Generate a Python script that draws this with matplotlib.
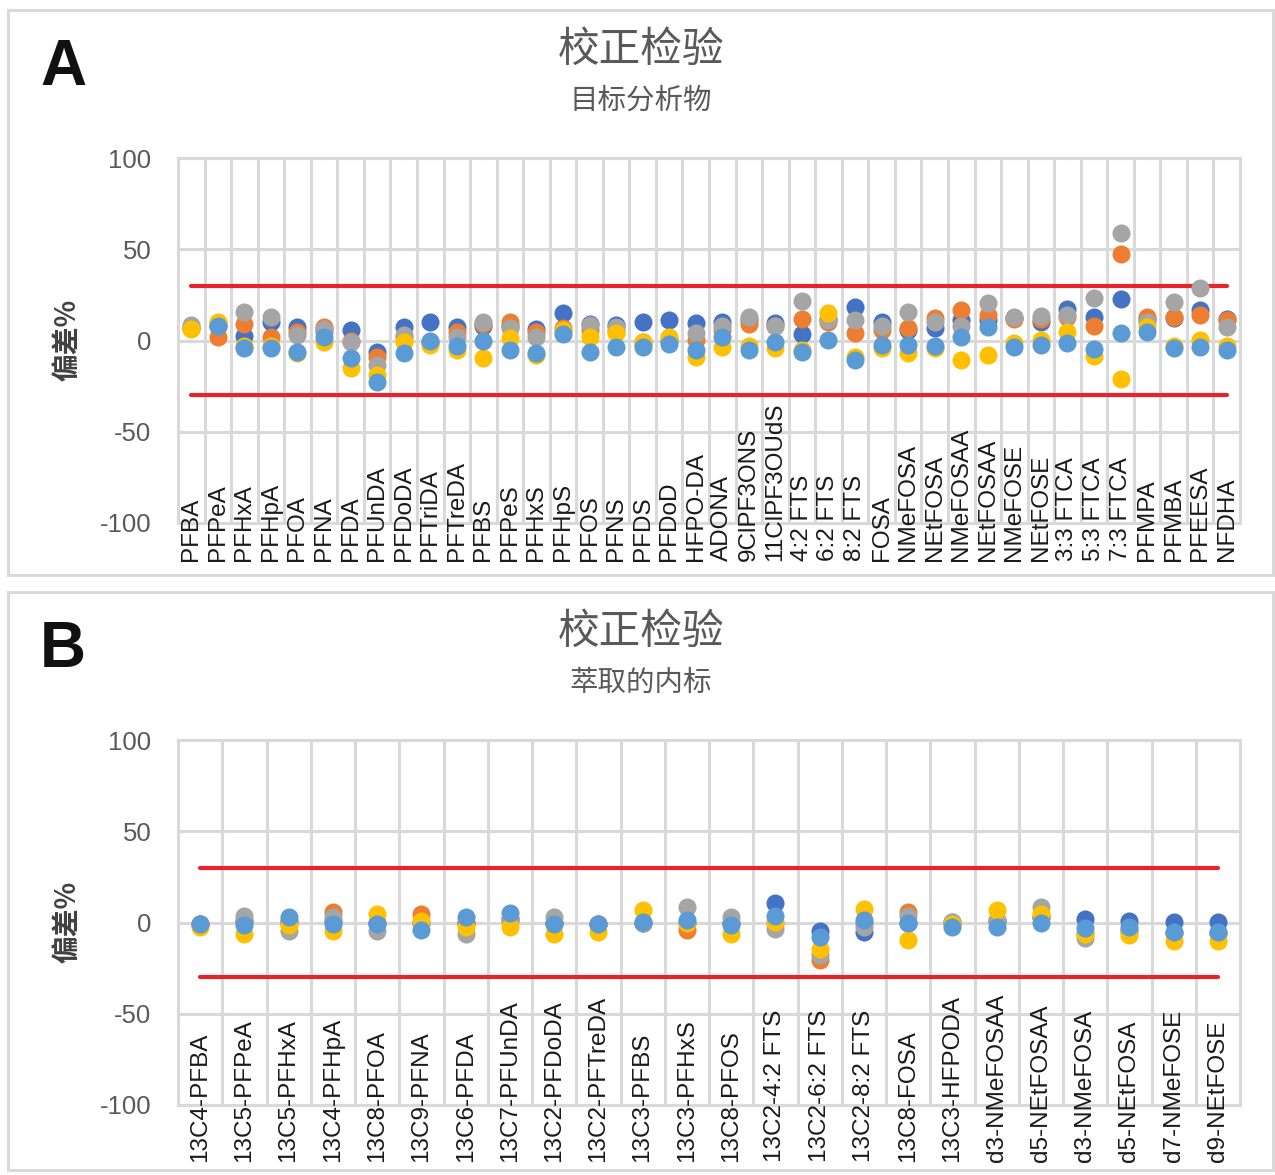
import numpy as np
import matplotlib
matplotlib.use("Agg")
import matplotlib.pyplot as plt
from matplotlib.patches import Rectangle
from matplotlib import transforms

plt.rcParams['font.family'] = ['Liberation Sans', 'Noto Sans CJK SC', 'DejaVu Sans']
plt.rcParams['axes.unicode_minus'] = False

# ---- data: panel A (target analytes) ----
cats_a = ["PFBA", "PFPeA", "PFHxA", "PFHpA", "PFOA", "PFNA", "PFDA", "PFUnDA",
          "PFDoDA", "PFTriDA", "PFTreDA", "PFBS", "PFPeS", "PFHxS", "PFHpS",
          "PFOS", "PFNS", "PFDS", "PFDoD", "HFPO-DA", "ADONA", "9ClPF3ONS",
          "11ClPF3OUdS", "4:2 FTS", "6:2 FTS", "8:2 FTS", "FOSA", "NMeFOSA",
          "NEtFOSA", "NMeFOSAA", "NEtFOSAA", "NMeFOSE", "NEtFOSE", "3:3 FTCA",
          "5:3 FTCA", "7:3 FTCA", "PFMPA", "PFMBA", "PFEESA", "NFDHA"]
a_blue = [7, 8, 2.5, 10.3, 7.2, 5, 5.8, -6.1, 7.2, 10.3, 7.6, 8, 8, 6.1, 15.2,
          8.8, 8.5, 10.3, 11.2, 9.8, 10.3, 11, 9.5, 3.6, 12, 18.5, 10.3, 6,
          6.7, 11.2, 11, 12.5, 10.3, 17.1, 12.7, 22.6, 12, 12.2, 16.7, 11.6]
a_orange = [7, 2, 9, 1.7, 4.8, 7.6, -0.5, -8.9, 2, -1, 4.8, 9, 10.3, 4.8, 6.7,
            6, 5, -1, 0, 0.3, 5.8, 9, 8, 11.6, 10, 3.9, 6, 6.7,
            12.2, 16.7, 14, 12, 12, 13, 7.9, 47.2, 13, 13, 14, 11]
a_gray = [8.5, 9, 15.8, 13, 3, 6.1, -1, -13.4, 3, -1.5, 2.1, 10.3, 6.7, 2.1, 5,
          8.5, 7.6, -2, 1, 3.9, 7.9, 13, 7.9, 21.8, 11.2, 11.2, 7.9, 15.8,
          10.3, 7.9, 20.4, 13, 13.4, 14, 23.1, 59.1, 10, 21.3, 28.6, 7.6]
a_yellow = [6.5, 10, -3, -3, -7, -0.6, -15.2, -18.9, -0.6, -2.5, -5.2, -9.8, 1.2,
            -8, 5.8, 2.1, 3.9, -0.6, 2.1, -8.9, -3.7, -3, -4.3, -5, 14.9, -8.9,
            -4, -7, -4, -10.7, -7.9, -1.5, 0.3, 4.8, -8.5, -21.3, 7.6, -3, 0.3, -3]
a_lblue = [np.nan, 8, -4.3, -4.3, -6.1, 2.1, -9.8, -22.6, -6.7, -0.1, -3, -0.1,
           -5.2, -6.7, 3.6, -6.1, -3.4, -3.4, -1.9, -5.2, 2.1, -5.2, -0.6, -6.1,
           0.3, -10.7, -2.5, -2.5, -3, 2.1, 7.2, -3.4, -2.5, -1.5, -4.8, 3.9,
           4.8, -4.3, -3.7, -5.2]

# ---- data: panel B (extracted internal standards) ----
cats_b = ["13C4-PFBA", "13C5-PFPeA", "13C5-PFHxA", "13C4-PFHpA", "13C8-PFOA",
          "13C9-PFNA", "13C6-PFDA", "13C7-PFUnDA", "13C2-PFDoDA", "13C2-PFTreDA",
          "13C3-PFBS", "13C3-PFHxS", "13C8-PFOS", "13C2-4:2 FTS", "13C2-6:2 FTS",
          "13C2-8:2 FTS", "13C8-FOSA", "13C3-HFPODA", "d3-NMeFOSAA",
          "d5-NEtFOSAA", "d3-NMeFOSA", "d5-NEtFOSA", "d7-NMeFOSE", "d9-NEtFOSE"]
b_blue = [-1, 1, 1, 1, 0, 0, 0, 2, 0, -1, 0, 0, 0, 10.6, -4.4, -5.3, 0, 0.2,
          1, 3, 2, 0.7, 0.2, 0.2]
b_orange = [-1, 1, 0, 5.6, 0, 4.7, 0, 2, 0, -1, 0, -4, 0, 0, -20.8, 0, 5.6, 0,
            1, 3, -6, -4, -6, -6]
b_gray = [-1, 3.8, -4.4, 2.9, -4.4, 0, -6.2, 1, 2.9, -1, 0, 8.4, 2.9, -3.5, -18,
          -2.6, 3.8, 0.2, 1.5, 8.4, -8.4, -5, -6, -6]
b_yellow = [-2.6, -6.2, -1.6, -4.4, 4.7, 1, -2.6, -2.6, -6.2, -5.3, 6.9, 0,
            -6.2, 0.2, -14.4, 7.5, -9.5, -1, 6.6, 4.7, -6.2, -7.1, -9.9, -10.2]
b_lblue = [-0.7, -1.6, 2.9, -0.7, -0.7, -4.0, 2.9, 5.1, -0.7, -0.7, 0.2, 1.5,
           -1.6, 3.3, -8, 1.5, -0.4, -2.2, -2.6, -0.4, -2.9, -2.6, -5.3, -5.3]

limits = [30, -30]
yticks = [-100, -50, 0, 50, 100]
colors = ["#4472C4", "#ED7D31", "#A5A5A5", "#FFC000", "#5B9BD5"]

W, H = 1275, 1175
fig = plt.figure(figsize=(W / 100, H / 100), dpi=100)

grid_c = "#D9D9D9"
text_c = "#595959"


def panel(top_px, box, letter, subtitle, cats, series, lab_y):
    # frame around the panel
    fig.patches.append(Rectangle((box[0] / W, 1 - box[3] / H),
                                 (box[2] - box[0]) / W, (box[3] - box[1]) / H,
                                 transform=fig.transFigure, fill=False,
                                 edgecolor=grid_c, lw=2.2))
    ax = fig.add_axes([178 / W, 1 - (top_px + 365) / H, 1062 / W, 365 / H])
    n = len(cats)
    x = np.arange(n)
    for vals, c in zip(series, colors):
        ax.plot(x, vals, 'o', color=c, markersize=13, markeredgewidth=0,
                zorder=3)
    for lim in limits:
        ax.plot(x, [lim] * n, color="#E8232A", lw=3, zorder=2,
                solid_capstyle='round')
    ax.set_xlim(-0.5, n - 0.5)
    ax.set_ylim(-100, 100)
    ax.set_xticks(np.arange(n + 1) - 0.5)
    ax.set_xticklabels([])
    ax.set_yticks(yticks)
    ax.set_yticklabels([str(t) for t in yticks])
    ax.grid(True, color=grid_c, lw=2.2, zorder=0)
    ax.tick_params(length=0, pad=19, labelsize=18.5, labelcolor=text_c)
    for s in ax.spines.values():
        s.set_color(grid_c)
        s.set_linewidth(2.2)
    trans = transforms.blended_transform_factory(ax.transData, ax.transAxes)
    for i, name in enumerate(cats):
        ax.text(i, lab_y, name, rotation=90, ha='center', va='bottom',
                fontsize=17.5, color="#1a1a1a", transform=trans, clip_on=False,
                zorder=4)
    # titles and letter
    fig.text(641 / W, 1 - (top_px - 108) / H, "校正检验", ha='center',
             va='center', fontsize=30, color=text_c,
             family=['Noto Sans CJK SC', 'DejaVu Sans'])
    fig.text(641 / W, 1 - (top_px - 57) / H, subtitle, ha='center',
             va='center', fontsize=20.5, color=text_c,
             family=['Noto Sans CJK SC', 'DejaVu Sans'])
    fig.text(63 / W, 1 - (top_px - 90) / H, letter, ha='center', va='center',
             fontsize=46, fontweight='bold', color="#111111")
    fig.text(68 / W, 1 - (top_px + 182) / H, "偏差%", rotation=90,
             ha='center', va='center', fontsize=20, fontweight='bold',
             color="#404040", family=['Noto Sans CJK SC', 'DejaVu Sans'])
    return ax


panel(158, (8, 10, 1273, 575), "A", "目标分析物", cats_a,
      [a_blue, a_orange, a_gray, a_yellow, a_lblue], -0.103)
panel(740, (8, 592, 1273, 1170), "B", "萃取的内标", cats_b,
      [b_blue, b_orange, b_gray, b_yellow, b_lblue], -0.156)

fig.savefig("out.png", dpi=100)
